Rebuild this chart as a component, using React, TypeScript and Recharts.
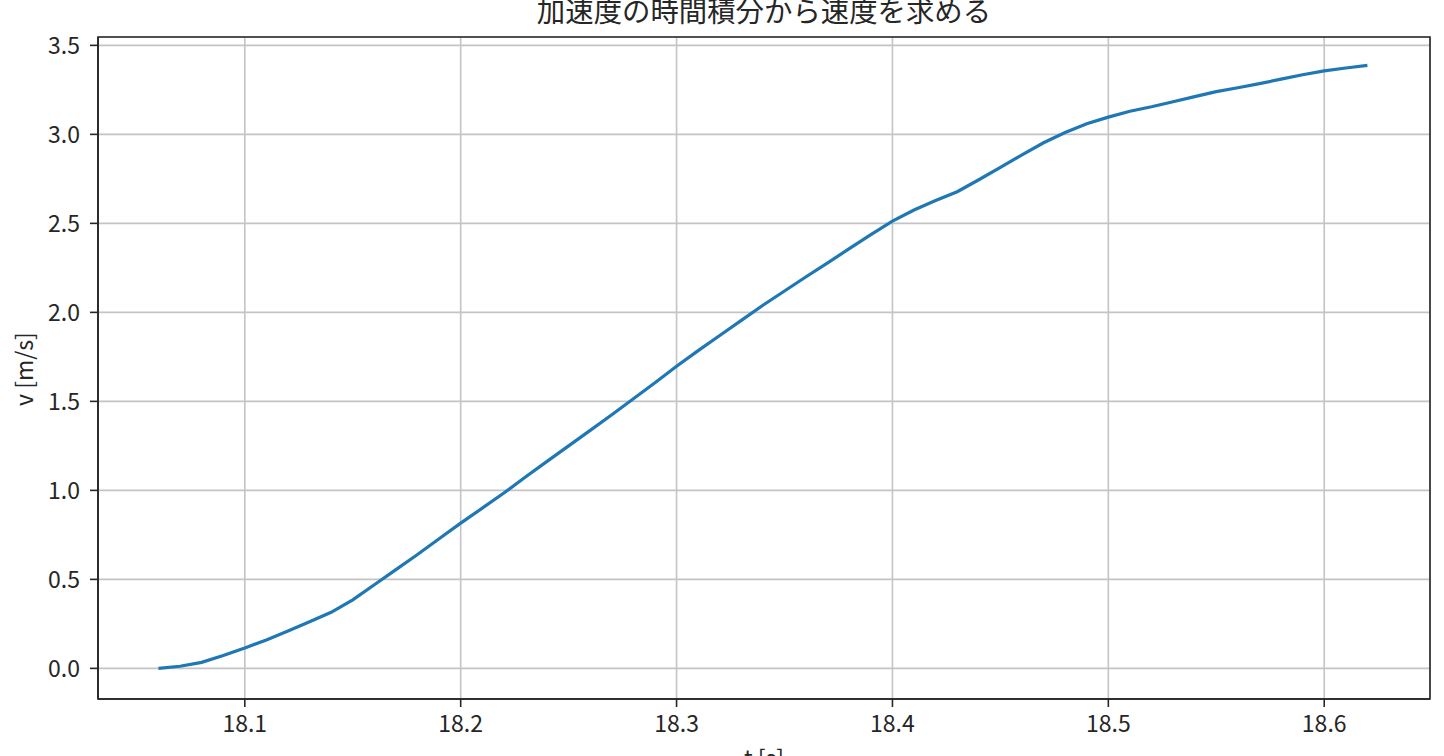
import React from "react";
import { LineChart, Line, XAxis, YAxis, CartesianGrid, ReferenceArea } from "recharts";

const times = [
  18.06, 18.07, 18.08, 18.09, 18.1, 18.11, 18.12, 18.13, 18.14, 18.15,
  18.16, 18.17, 18.18, 18.19, 18.2, 18.21, 18.22, 18.23, 18.24, 18.25,
  18.26, 18.27, 18.28, 18.29, 18.3, 18.31, 18.32, 18.33, 18.34, 18.35,
  18.36, 18.37, 18.38, 18.39, 18.4, 18.41, 18.42, 18.43, 18.44, 18.45,
  18.46, 18.47, 18.48, 18.49, 18.5, 18.51, 18.52, 18.53, 18.54, 18.55,
  18.56, 18.57, 18.58, 18.59, 18.6, 18.61, 18.62,
];

const velocity = [
  0.0, 0.012, 0.034, 0.072, 0.115, 0.16, 0.21, 0.262, 0.315, 0.385,
  0.47, 0.555, 0.64, 0.728, 0.816, 0.9, 0.985, 1.075, 1.163, 1.25,
  1.337, 1.425, 1.515, 1.605, 1.697, 1.785, 1.87, 1.955, 2.04, 2.12,
  2.2, 2.278, 2.358, 2.437, 2.513, 2.575, 2.628, 2.678, 2.745, 2.815,
  2.885, 2.953, 3.01, 3.06, 3.097, 3.13, 3.155, 3.183, 3.212, 3.24,
  3.262, 3.285, 3.31, 3.335, 3.357, 3.373, 3.388,
];

const xTicks = [18.1, 18.2, 18.3, 18.4, 18.5, 18.6];
const yTicks = [0, 0.5, 1, 1.5, 2, 2.5, 3, 3.5];

const xDomain: [number, number] = [18.032, 18.649];
const yDomain: [number, number] = [-0.172, 3.547];

const data = times.map((t, i) => ({ t, v: velocity[i] }));

const FONT = "'Noto Sans CJK JP', 'Noto Sans', sans-serif";
const INK = "#262626";
const tickStyle = { fontSize: 23, fill: INK, fontFamily: FONT };

export default function App() {
  return (
    <div style={{ position: "absolute", left: 0, top: 0, width: 1444, height: 756, background: "#fff", overflow: "hidden" }}>
      <div
        style={{
          position: "absolute",
          left: 0,
          width: 1528,
          top: -8,
          textAlign: "center",
          fontFamily: FONT,
          fontSize: 28.4,
          color: INK,
          lineHeight: "36px",
        }}
      >
        加速度の時間積分から速度を求める
      </div>
      <LineChart width={1444} height={756} data={data} margin={{ top: 37, right: 14, bottom: 0, left: 0 }}>
        <CartesianGrid stroke="#c4c4c4" strokeWidth={1.6} />
        <XAxis
          dataKey="t"
          type="number"
          domain={xDomain}
          allowDataOverflow
          ticks={xTicks}
          tickFormatter={(v: number) => v.toFixed(1)}
          height={57}
          tick={tickStyle}
          tickSize={8}
          tickMargin={9}
          axisLine={{ stroke: INK, strokeWidth: 1.6 }}
          tickLine={{ stroke: INK, strokeWidth: 1.6 }}
          label={{
            content: () => (
              <text x={764} y={767} textAnchor="middle" fontSize={23} fontFamily={FONT} fill={INK}>
                t [s]
              </text>
            ),
          }}
        />
        <YAxis
          type="number"
          domain={yDomain}
          allowDataOverflow
          ticks={yTicks}
          tickFormatter={(v: number) => v.toFixed(1)}
          width={98}
          tick={tickStyle}
          tickSize={8}
          tickMargin={10}
          axisLine={{ stroke: INK, strokeWidth: 1.6 }}
          tickLine={{ stroke: INK, strokeWidth: 1.6 }}
          label={{
            content: () => (
              <text
                x={23}
                y={369}
                transform="rotate(-90, 23, 369)"
                textAnchor="middle"
                dominantBaseline="central"
                fontSize={23}
                fontFamily={FONT}
                fill={INK}
              >
                v [m/s]
              </text>
            ),
          }}
        />
        <ReferenceArea
          x1={xDomain[0]}
          x2={xDomain[1]}
          y1={yDomain[0]}
          y2={yDomain[1]}
          fill="none"
          stroke={INK}
          strokeWidth={1.6}
          ifOverflow="visible"
        />
        <Line
          type="linear"
          dataKey="v"
          stroke="#1f77b4"
          strokeWidth={3.2}
          dot={false}
          isAnimationActive={false}
        />
      </LineChart>
    </div>
  );
}
